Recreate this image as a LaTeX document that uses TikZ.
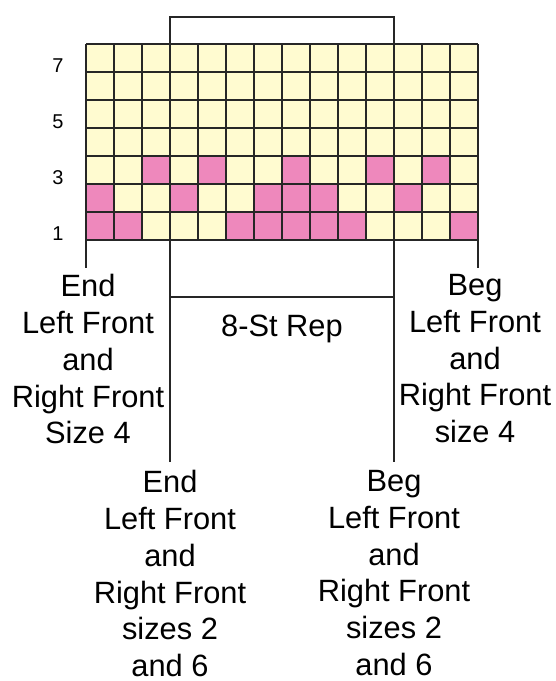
\documentclass[tikz,border=0pt]{standalone}
\usepackage{fontspec}
\setmainfont{Liberation Sans}
\usetikzlibrary{positioning}
\definecolor{chartyellow}{RGB}{255,251,208}
\definecolor{chartpink}{RGB}{238,136,188}

\begin{document}
\begin{tikzpicture}[x=0.5pt, y=-0.5pt,
  cell/.style={draw=black!85, line width=0.85pt},
  bracket/.style={draw=black!85, line width=1.1pt, shorten <=4pt, shorten >=4pt},
  note/.style={align=center, inner sep=0pt, anchor=north, font=\fontsize{15.4}{18.4}\selectfont},
  rownum/.style={inner sep=0pt, font=\fontsize{10}{11}\selectfont}]
  \useasboundingbox (0,0) rectangle (556,681);

  % Chart: 14 sts by 7 rows, 28px squares
  \fill[chartyellow] (86,44) rectangle (478,240);
  \foreach \c/\r in {1/1,2/1,6/1,7/1,8/1,9/1,10/1,14/1,
                     1/2,4/2,7/2,8/2,9/2,12/2,
                     3/3,5/3,8/3,11/3,13/3}
    \fill[chartpink] ({86+(\c-1)*28},{240-\r*28}) rectangle ++(28,28);
  \foreach \c in {0,...,14}
    \draw[cell] ({86+\c*28},44) -- ({86+\c*28},240);
  \foreach \r in {0,...,7}
    \draw[cell] (86,{44+\r*28}) -- (478,{44+\r*28});
  \foreach \r in {1,3,5,7}
    \node[rownum] (row\r) at (58,{240-\r*28+22}) {\r};

  \coordinate (chartBL) at (86,240);
  \coordinate (chartBR) at (478,240);
  \coordinate (repTL) at (170,17);
  \coordinate (repTR) at (394,17);
  \coordinate (repBL) at (170,297);
  \coordinate (repBR) at (394,297);

  \node[note] (endFour) at (88,274) {End\\Left Front\\and\\Right Front\\Size 4};
  \node[note] (begFour) at (475,274) {Beg\\Left Front\\and\\Right Front\\size 4};
  \node[note] (repLabel) at (282,315) {8-St Rep};
  \node[note] (endSix) at (170,470) {End\\Left Front\\and\\Right Front\\sizes 2\\and 6};
  \node[note] (begSix) at (394,470) {Beg\\Left Front\\and\\Right Front\\sizes 2\\and 6};

  \draw[cell, line width=1pt, shorten >=3pt] (chartBL) -- (endFour.north -| chartBL);
  \draw[cell, line width=1pt, shorten >=3pt] (chartBR) -- (begFour.north -| chartBR);
  \draw[bracket] (endSix.north) -- (repTL) -- (repTR) -- (begSix.north);
  \draw[bracket, shorten <=0pt, shorten >=0pt] (repBL) -- (repBR);
\end{tikzpicture}
\end{document}
